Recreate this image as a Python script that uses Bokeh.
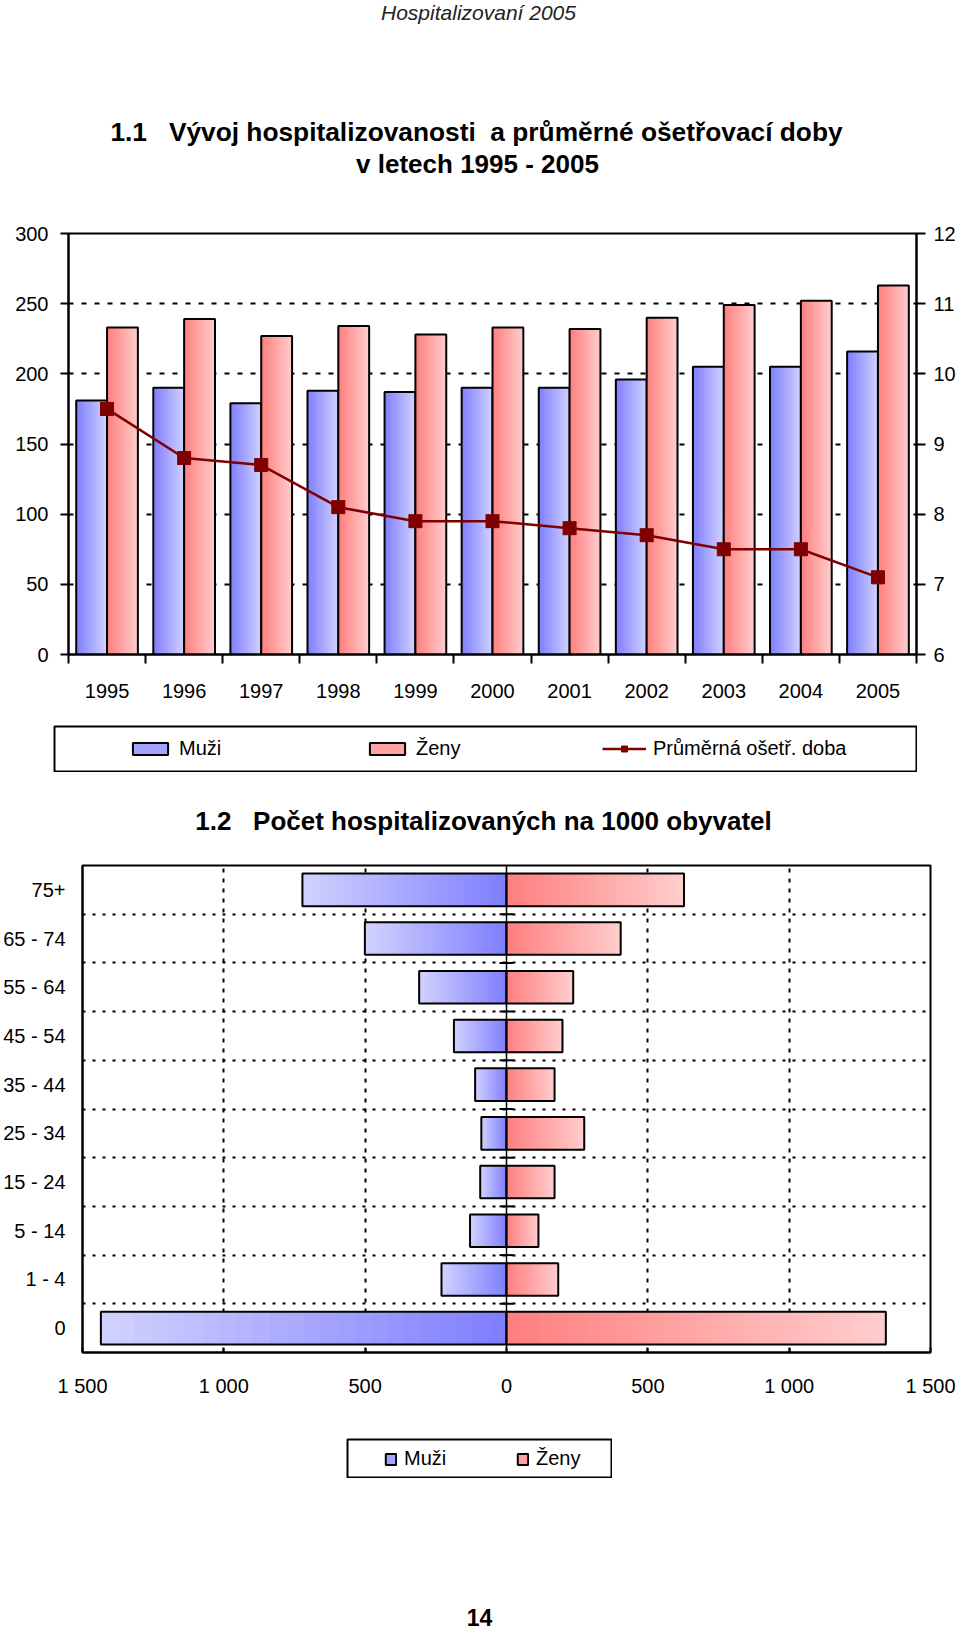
import numpy as np
from bokeh.plotting import figure
from bokeh.models import (Range1d, LinearAxis, FixedTicker, Label, Legend, LegendItem,
                          Span, Spacer, ColumnDataSource)
from bokeh.layouts import column, row
from bokeh.embed import file_html
from bokeh.resources import INLINE

# ---------------- data ----------------
years = ["1995", "1996", "1997", "1998", "1999", "2000", "2001", "2002", "2003", "2004", "2005"]
muzi = [181, 190, 179, 188, 187, 190, 190, 196, 205, 205, 216]
zeny = [233, 239, 227, 234, 228, 233, 232, 240, 249, 252, 263]
doba = [9.5, 8.8, 8.7, 8.1, 7.9, 7.9, 7.8, 7.7, 7.5, 7.5, 7.1]
left_ticks = [0, 50, 100, 150, 200, 250, 300]
right_ticks = [6, 7, 8, 9, 10, 11, 12]

age_groups = ["75+", "65 - 74", "55 - 64", "45 - 54", "35 - 44", "25 - 34",
              "15 - 24", "5 - 14", "1 - 4", "0"]
muzi_age = [722, 501, 309, 186, 111, 89, 93, 129, 230, 1435]
zeny_age = [628, 404, 236, 198, 170, 275, 170, 113, 183, 1342]
pyr_ticks = [-1500, -1000, -500, 0, 500, 1000, 1500]
pyr_tick_labels = ["1 500", "1 000", "500", "0", "500", "1 000", "1 500"]

FONT = "Liberation Sans"
TS = "20px"
BLUE_DARK, BLUE_LIGHT = (128, 128, 255), (208, 208, 255)
RED_DARK, RED_LIGHT = (255, 128, 128), (255, 204, 204)
LINE_RED = "#800000"
W = 959
NB = "\u00a0"


def mix(c0, c1, t):
    return "#%02x%02x%02x" % tuple(int(round(a + (b - a) * t)) for a, b in zip(c0, c1))


def gradient_quads(lefts, rights, bottoms, tops, c_left, c_right, n=24):
    L, R, B, T, C = [], [], [], [], []
    for k in range(n):
        col = mix(c_left, c_right, k / (n - 1))
        for l, r, b, t in zip(lefts, rights, bottoms, tops):
            L.append(float(l + (r - l) * k / n)); R.append(float(r))
            B.append(float(b)); T.append(float(t)); C.append(col)
    return ColumnDataSource(dict(left=L, right=R, bottom=B, top=T, color=C))


def base_axis(ax):
    ax.axis_line_color = "black"
    ax.axis_line_width = 2
    ax.major_tick_line_color = "black"
    ax.major_tick_line_width = 2
    ax.minor_tick_line_color = None
    ax.major_label_text_font = FONT
    ax.major_label_text_font_size = TS
    ax.major_label_text_color = "black"


def text_fig(w, h):
    f = figure(width=w, height=h, x_range=Range1d(0, w), y_range=Range1d(0, h), min_border=0,
               output_backend="svg", toolbar_location=None, x_axis_location=None, y_axis_location=None)
    f.outline_line_color = None
    f.grid.visible = False
    return f


# ---------------- header + title 1.1 ----------------
t1 = text_fig(W, 220)
t1.add_layout(Label(x=478, y=220 - 12, text="Hospitalizovaní 2005", text_align="center",
                    text_baseline="alphabetic", text_font=FONT, text_font_size="21px",
                    text_font_style="italic", text_color="#222222"))
t1.add_layout(Label(x=476, y=220 - 131,
                    text="1.1" + NB + NB + " Vývoj hospitalizovanosti" + NB + " a průměrné ošetřovací doby",
                    text_align="center", text_baseline="alphabetic", text_font=FONT,
                    text_font_size="26.3px", text_font_style="bold", text_color="black"))
t1.add_layout(Label(x=477, y=220 - 163, text="v letech 1995 - 2005",
                    text_align="center", text_baseline="alphabetic", text_font=FONT,
                    text_font_size="26px", text_font_style="bold", text_color="black"))

# ---------------- chart 1 ----------------
p1 = figure(width=W, height=505, x_range=Range1d(-0.5, 10.5), y_range=Range1d(0, 300),
            output_backend="svg", toolbar_location=None,
            min_border_left=68, min_border_right=W - 916, min_border_top=13, min_border_bottom=71)
p1.extra_y_ranges = {"dur": Range1d(6, 12)}
p1.outline_line_color = "black"
p1.outline_line_width = 2
p1.xgrid.visible = False
p1.ygrid.ticker = FixedTicker(ticks=left_ticks[1:-1])
p1.ygrid.grid_line_color = "black"
p1.ygrid.grid_line_width = 2
p1.ygrid.grid_line_dash = "5 8"

xi = [int(i) for i in np.arange(len(years))]
BAR = 0.4
m_left = [i - BAR for i in xi]
m_right = [float(i) for i in xi]
z_left = [float(i) for i in xi]
z_right = [i + BAR for i in xi]
zeros = [0] * len(years)

p1.quad(source=gradient_quads(m_left, m_right, zeros, muzi, BLUE_DARK, BLUE_LIGHT),
        left="left", right="right", bottom="bottom", top="top", fill_color="color", line_color=None)
p1.quad(left=m_left, right=m_right, bottom=0, top=muzi, fill_color=None, line_color="black", line_width=2)
p1.quad(source=gradient_quads(z_left, z_right, zeros, zeny, RED_DARK, RED_LIGHT),
        left="left", right="right", bottom="bottom", top="top", fill_color="color", line_color=None)
p1.quad(left=z_left, right=z_right, bottom=0, top=zeny, fill_color=None, line_color="black", line_width=2)
p1.line(xi, doba, y_range_name="dur", line_color=LINE_RED, line_width=2.5)
p1.scatter(xi, doba, y_range_name="dur", marker="square_x", size=13,
           fill_color=LINE_RED, line_color=LINE_RED, line_width=1)

xa = p1.xaxis[0]
base_axis(xa)
xa.ticker = FixedTicker(ticks=xi, minor_ticks=[i - 0.5 for i in range(len(years) + 1)])
xa.major_label_overrides = {i: y for i, y in zip(xi, years)}
xa.major_tick_out = 0
xa.major_tick_in = 0
xa.minor_tick_line_color = "black"
xa.minor_tick_line_width = 2
xa.minor_tick_out = 9
xa.minor_tick_in = 0
xa.major_label_standoff = 20

ya = p1.yaxis[0]
base_axis(ya)
ya.ticker = FixedTicker(ticks=left_ticks)
ya.major_tick_out = 8
ya.major_tick_in = 0
ya.major_label_standoff = 12

yr = LinearAxis(y_range_name="dur", ticker=FixedTicker(ticks=right_ticks))
base_axis(yr)
yr.major_tick_out = 9
yr.major_tick_in = 0
yr.major_label_standoff = 8
p1.add_layout(yr, "right")

# ---------------- legend 1 ----------------
leg1 = figure(width=864, height=47, x_range=Range1d(0, 1), y_range=Range1d(0, 1), min_border=1,
              output_backend="svg", toolbar_location=None, x_axis_location=None, y_axis_location=None)
leg1.outline_line_color = "black"
leg1.outline_line_width = 2
leg1.grid.visible = False
r_m = leg1.quad(left=[5], right=[6], bottom=[5], top=[6], fill_color=mix(BLUE_DARK, BLUE_LIGHT, 0.45),
                line_color="black", line_width=2)
r_z = leg1.quad(left=[5], right=[6], bottom=[5], top=[6], fill_color=mix(RED_DARK, RED_LIGHT, 0.45),
                line_color="black", line_width=2)
r_l = leg1.line(x=[5, 6], y=[5, 5], line_color=LINE_RED, line_width=2.5)
r_s = leg1.scatter(x=[5], y=[5], marker="square_x", size=12, fill_color=LINE_RED, line_color=LINE_RED)
lg1 = Legend(items=[LegendItem(label="Muži", renderers=[r_m]),
                    LegendItem(label="Ženy", renderers=[r_z]),
                    LegendItem(label="Průměrná ošetř. doba", renderers=[r_l, r_s])],
             location=(74, 11), orientation="horizontal", glyph_width=44, glyph_height=15,
             label_standoff=7, label_width=186, spacing=0, padding=0, margin=0,
             border_line_alpha=0, background_fill_alpha=0,
             label_text_font=FONT, label_text_font_size=TS, label_text_color="black")
leg1.add_layout(lg1)

# ---------------- title 1.2 ----------------
t2 = text_fig(W, 88)
t2.add_layout(Label(x=483, y=88 - 48, text="1.2" + NB + NB + " Počet hospitalizovaných na 1000 obyvatel",
                    text_align="center", text_baseline="alphabetic", text_font=FONT,
                    text_font_size="26px", text_font_style="bold", text_color="black"))

# ---------------- chart 2 ----------------
p2 = figure(width=W, height=578, x_range=Range1d(-1500, 1500), y_range=Range1d(-0.5, 9.5),
            output_backend="svg", toolbar_location=None,
            min_border_left=81, min_border_right=W - 930, min_border_top=5, min_border_bottom=86)
p2.outline_line_color = "black"
p2.outline_line_width = 2

n_age = len(age_groups)
ypos = [n_age - 1 - j for j in range(n_age)]
HB = 0.335
bots = [y - HB for y in ypos]
tops = [y + HB for y in ypos]
neg = [-v for v in muzi_age]
zer = [0] * n_age

p2.xgrid.ticker = FixedTicker(ticks=[t for t in pyr_ticks if abs(t) not in (0, 1500)])
p2.xgrid.grid_line_color = "black"
p2.xgrid.grid_line_width = 2
p2.xgrid.grid_line_dash = "4 6"
p2.ygrid.ticker = FixedTicker(ticks=[j + 0.5 for j in range(n_age - 1)])
p2.ygrid.grid_line_color = "black"
p2.ygrid.grid_line_width = 2
p2.ygrid.grid_line_dash = "3 7"

p2.quad(source=gradient_quads(neg, zer, bots, tops, BLUE_LIGHT, BLUE_DARK),
        left="left", right="right", bottom="bottom", top="top", fill_color="color", line_color=None)
p2.quad(left=neg, right=0, bottom=bots, top=tops, fill_color=None, line_color="black", line_width=2)
p2.quad(source=gradient_quads(zer, zeny_age, bots, tops, RED_DARK, RED_LIGHT),
        left="left", right="right", bottom="bottom", top="top", fill_color="color", line_color=None)
p2.quad(left=0, right=zeny_age, bottom=bots, top=tops, fill_color=None, line_color="black", line_width=2)
p2.add_layout(Span(location=0, dimension="height", line_color="black", line_width=1.5))
p2.scatter(x=[0] * (n_age - 1), y=[j + 0.5 for j in range(n_age - 1)], marker="dash", size=14,
           line_color="black", line_width=2)

xa2 = p2.xaxis[0]
base_axis(xa2)
xa2.ticker = FixedTicker(ticks=pyr_ticks)
xa2.major_label_overrides = {t: s for t, s in zip(pyr_ticks, pyr_tick_labels)}
xa2.major_tick_in = 5
xa2.major_tick_out = 0
xa2.major_label_standoff = 22

ya2 = p2.yaxis[0]
base_axis(ya2)
ya2.ticker = FixedTicker(ticks=ypos)
ya2.major_label_overrides = {y: g for y, g in zip(ypos, age_groups)}
ya2.major_tick_in = 0
ya2.major_tick_out = 0
ya2.major_label_standoff = 17

# ---------------- legend 2 ----------------
leg2 = figure(width=266, height=40, x_range=Range1d(0, 1), y_range=Range1d(0, 1), min_border=1,
              output_backend="svg", toolbar_location=None, x_axis_location=None, y_axis_location=None)
leg2.outline_line_color = "black"
leg2.outline_line_width = 2
leg2.grid.visible = False
q_m = leg2.quad(left=[5], right=[6], bottom=[5], top=[6], fill_color=mix(BLUE_DARK, BLUE_LIGHT, 0.45),
                line_color="black", line_width=2)
q_z = leg2.quad(left=[5], right=[6], bottom=[5], top=[6], fill_color=mix(RED_DARK, RED_LIGHT, 0.45),
                line_color="black", line_width=2)
lg2 = Legend(items=[LegendItem(label="Muži", renderers=[q_m]),
                    LegendItem(label="Ženy", renderers=[q_z])],
             location=(37, 7), orientation="horizontal", glyph_width=13, glyph_height=14,
             label_standoff=7, label_width=112, spacing=0, padding=0, margin=0,
             border_line_alpha=0, background_fill_alpha=0,
             label_text_font=FONT, label_text_font_size=TS, label_text_color="black")
leg2.add_layout(lg2)

# ---------------- page number ----------------
t3 = text_fig(W, 152)
t3.add_layout(Label(x=479, y=13, text="14", text_align="center", text_baseline="alphabetic",
                    text_font=FONT, text_font_size="23px", text_font_style="bold", text_color="black"))

layout = column(row(t1),
                row(p1),
                row(Spacer(width=53, height=47), leg1),
                row(t2),
                row(p2),
                row(Spacer(width=346, height=40), leg2),
                row(t3))

open("out.html", "w").write(file_html(layout, INLINE))
